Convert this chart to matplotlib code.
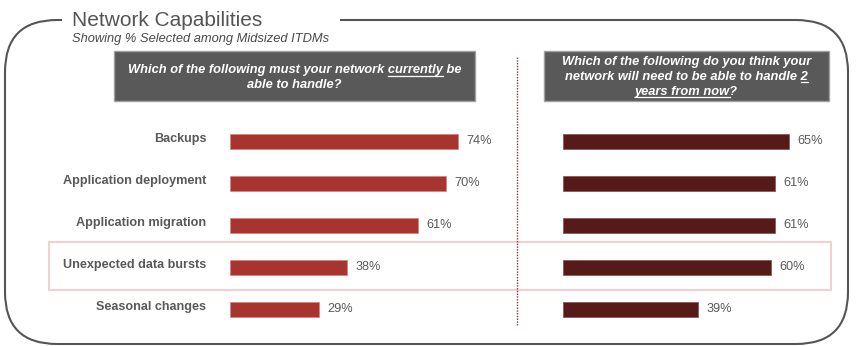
import matplotlib.pyplot as plt
from matplotlib.patches import FancyBboxPatch, Rectangle

plt.rcParams['font.family'] = ['Liberation Sans', 'DejaVu Sans']

categories = ['Backups', 'Application deployment', 'Application migration',
              'Unexpected data bursts', 'Seasonal changes']
current = [74, 70, 61, 38, 29]
future = [65, 61, 61, 60, 39]

title = 'Network Capabilities'
subtitle = 'Showing % Selected among Midsized ITDMs'
# header lines as (text, underlined word or None)
left_header = [('Which of the following must your network currently be', 'currently'),
               ('able to handle?', None)]
right_header = [('Which of the following do you think your', None),
                ('network will need to be able to handle 2', '2'),
                ('years from now?', 'years from now')]

W, H = 858, 346
TEXT = '#595959'
RED = '#a83430'
MAROON = '#561a18'

fig = plt.figure(figsize=(W / 100, H / 100), dpi=100)
fig.patch.set_facecolor('white')

# pixel-space overlay for frame, header boxes and separators
bg = fig.add_axes([0, 0, 1, 1])
bg.set_xlim(0, W)
bg.set_ylim(H, 0)
bg.axis('off')

frame = FancyBboxPatch((5, 20), 843, 324, boxstyle='round,pad=0,rounding_size=52',
                       facecolor='none', edgecolor='#555555', lw=1.5)
bg.add_patch(frame)
bg.add_patch(Rectangle((62, 10), 278, 20, facecolor='white', edgecolor='none', zorder=2))

bg.text(72, 26, title, fontsize=15, color='#555555', va='baseline', zorder=3)
bg.text(72, 42, subtitle, fontsize=9.3, style='italic', color='#4a4a4a',
        va='baseline', zorder=3)

# highlight band around the "Unexpected data bursts" row
bg.add_patch(Rectangle((49, 242), 782, 48, facecolor='none', edgecolor='#f3cfcf', lw=1.5))

# dotted divider between the two panels
bg.plot([517, 517], [57, 325], color='#7a3a3a', lw=1, ls=(0, (1, 1)))

renderer = fig.canvas.get_renderer()


def header(x0, x1, lines, baselines):
    bg.add_patch(Rectangle((x0, 51), x1 - x0, 50, facecolor='#595959',
                           edgecolor='#a0a0a0', lw=1))
    cx = (x0 + x1) / 2
    props = dict(fontsize=9.3, fontweight='bold', style='italic', color='white')
    for (line, under), yb in zip(lines, baselines):
        t = bg.text(cx, yb, line, ha='center', va='baseline', **props)
        if under is None:
            continue
        full = t.get_window_extent(renderer).width
        start = line.index(under)
        tmp = bg.text(0, 0, line[:start], **props)
        pre = tmp.get_window_extent(renderer).width if start else 0
        tmp.set_text(line[:start + len(under)])
        upto = tmp.get_window_extent(renderer).width
        tmp.remove()
        left = cx - full / 2
        bg.plot([left + pre, left + upto], [yb + 2.3, yb + 2.3], color='white', lw=0.9)


header(114, 475, left_header, [73.5, 88.5])
header(544, 829, right_header, [65.5, 80, 94.5])


def panel(x_px, scale, values, color, edge, labels):
    top, bottom = 120.5, 330.5
    ax = fig.add_axes([x_px / W, (H - bottom) / H, 80 * scale / W, (bottom - top) / H])
    ax.patch.set_alpha(0)
    y = range(len(values))
    ax.barh(y, values, height=0.34, color=color, edgecolor=edge, lw=0.6)
    ax.set_xlim(0, 80)
    ax.set_ylim(len(values) - 0.5, -0.5)
    ax.axis('off')
    for i, v in enumerate(values):
        ax.annotate(f'{v}%', (v, i), xytext=(6, 0), textcoords='offset points',
                    va='center', ha='left', fontsize=9.2, color=TEXT,
                    annotation_clip=False)
    if labels:
        for i, c in enumerate(categories):
            ax.annotate(c, (0, i), xytext=(-17, 2), textcoords='offset points',
                        va='center', ha='right', fontsize=9.1, fontweight='bold',
                        color=TEXT, annotation_clip=False)


panel(230, 3.08, current, RED, '#d78480', True)
panel(563, 3.47, future, MAROON, '#8c5856', False)

fig.savefig('out.png', dpi=100)
